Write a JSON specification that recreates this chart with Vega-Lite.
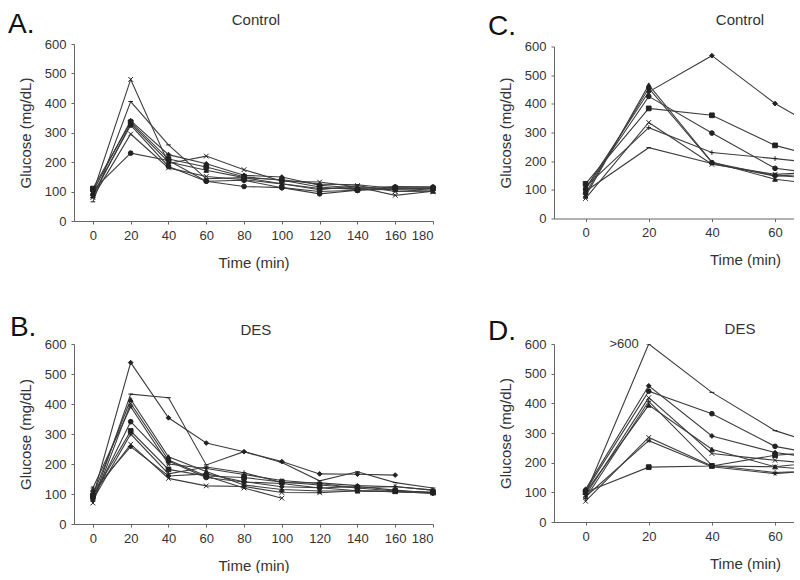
{
  "$schema": "https://vega.github.io/schema/vega-lite/v6.json",
  "padding": {"left": 8, "top": 11, "right": 0, "bottom": 0},
  "background": "white",
  "config": {
    "view": {"stroke": null},
    "font": "Liberation Sans",
    "axis": {"grid": false, "domainColor": "#666", "tickColor": "#666", "labelColor": "#333", "titleColor": "#333", "labelFont": "Liberation Sans", "titleFont": "Liberation Sans", "labelFontSize": 13, "titleFontSize": 15, "titleFontWeight": "normal", "tickSize": 3, "labelPadding": 5},
    "axisY": {"titlePadding": 11},
    "axisX": {"titlePadding": 13},
    "line": {"color": "#3d3d3d", "strokeWidth": 1.1},
    "point": {"filled": true, "color": "#222", "stroke": "#222", "strokeWidth": 1, "size": 22, "opacity": 1}
  },
  "datasets": {
    "A": [
      {"s":"a1","m":"x","t":0,"g":95},{"s":"a1","m":"x","t":20,"g":480},{"s":"a1","m":"x","t":40,"g":195},{"s":"a1","m":"x","t":60,"g":220},{"s":"a1","m":"x","t":80,"g":174},{"s":"a1","m":"x","t":100,"g":135},{"s":"a1","m":"x","t":120,"g":132},{"s":"a1","m":"x","t":140,"g":115},{"s":"a1","m":"x","t":160,"g":87},{"s":"a1","m":"x","t":180,"g":101},
      {"s":"a2","m":"dash","t":0,"g":65},{"s":"a2","m":"dash","t":20,"g":405},{"s":"a2","m":"dash","t":40,"g":258},{"s":"a2","m":"dash","t":60,"g":143},{"s":"a2","m":"dash","t":80,"g":147},{"s":"a2","m":"dash","t":100,"g":140},{"s":"a2","m":"dash","t":120,"g":125},{"s":"a2","m":"dash","t":140,"g":123},{"s":"a2","m":"dash","t":160,"g":110},{"s":"a2","m":"dash","t":180,"g":105},
      {"s":"a3","m":"diamond","t":0,"g":100},{"s":"a3","m":"diamond","t":20,"g":340},{"s":"a3","m":"diamond","t":40,"g":225},{"s":"a3","m":"diamond","t":60,"g":194},{"s":"a3","m":"diamond","t":80,"g":155},{"s":"a3","m":"diamond","t":100,"g":149},{"s":"a3","m":"diamond","t":120,"g":121},{"s":"a3","m":"diamond","t":140,"g":112},{"s":"a3","m":"diamond","t":160,"g":117},{"s":"a3","m":"diamond","t":180,"g":115},
      {"s":"a4","m":"square","t":0,"g":110},{"s":"a4","m":"square","t":20,"g":335},{"s":"a4","m":"square","t":40,"g":210},{"s":"a4","m":"square","t":60,"g":183},{"s":"a4","m":"square","t":80,"g":150},{"s":"a4","m":"square","t":100,"g":138},{"s":"a4","m":"square","t":120,"g":115},{"s":"a4","m":"square","t":140,"g":106},{"s":"a4","m":"square","t":160,"g":112},{"s":"a4","m":"square","t":180,"g":110},
      {"s":"a5","m":"triangle","t":0,"g":85},{"s":"a5","m":"triangle","t":20,"g":330},{"s":"a5","m":"triangle","t":40,"g":200},{"s":"a5","m":"triangle","t":60,"g":172},{"s":"a5","m":"triangle","t":80,"g":147},{"s":"a5","m":"triangle","t":100,"g":126},{"s":"a5","m":"triangle","t":120,"g":110},{"s":"a5","m":"triangle","t":140,"g":110},{"s":"a5","m":"triangle","t":160,"g":106},{"s":"a5","m":"triangle","t":180,"g":101},
      {"s":"a6","m":"circle","t":0,"g":90},{"s":"a6","m":"circle","t":20,"g":325},{"s":"a6","m":"circle","t":40,"g":185},{"s":"a6","m":"circle","t":60,"g":135},{"s":"a6","m":"circle","t":80,"g":138},{"s":"a6","m":"circle","t":100,"g":113},{"s":"a6","m":"circle","t":120,"g":100},{"s":"a6","m":"circle","t":140,"g":104},{"s":"a6","m":"circle","t":160,"g":108},{"s":"a6","m":"circle","t":180,"g":112},
      {"s":"a7","m":"x","t":0,"g":80},{"s":"a7","m":"x","t":20,"g":295},{"s":"a7","m":"x","t":40,"g":180},{"s":"a7","m":"x","t":60,"g":151},{"s":"a7","m":"x","t":80,"g":140},{"s":"a7","m":"x","t":100,"g":126},{"s":"a7","m":"x","t":120,"g":106},{"s":"a7","m":"x","t":140,"g":120},{"s":"a7","m":"x","t":160,"g":100},{"s":"a7","m":"x","t":180,"g":101},
      {"s":"a8","m":"circle","t":0,"g":105},{"s":"a8","m":"circle","t":20,"g":230},{"s":"a8","m":"circle","t":40,"g":205},{"s":"a8","m":"circle","t":60,"g":135},{"s":"a8","m":"circle","t":80,"g":117},{"s":"a8","m":"circle","t":100,"g":113},{"s":"a8","m":"circle","t":120,"g":92},{"s":"a8","m":"circle","t":140,"g":104},{"s":"a8","m":"circle","t":160,"g":115},{"s":"a8","m":"circle","t":180,"g":115}
    ],
    "B": [
      {"s":"b1","m":"diamond","t":0,"g":90},{"s":"b1","m":"diamond","t":20,"g":538},{"s":"b1","m":"diamond","t":40,"g":354},{"s":"b1","m":"diamond","t":60,"g":270},{"s":"b1","m":"diamond","t":80,"g":241},{"s":"b1","m":"diamond","t":100,"g":208},{"s":"b1","m":"diamond","t":120,"g":167},{"s":"b1","m":"diamond","t":140,"g":166},{"s":"b1","m":"diamond","t":160,"g":163},
      {"s":"b2","m":"dash","t":0,"g":75},{"s":"b2","m":"dash","t":20,"g":433},{"s":"b2","m":"dash","t":40,"g":421},{"s":"b2","m":"dash","t":60,"g":197},{"s":"b2","m":"dash","t":80,"g":241},{"s":"b2","m":"dash","t":100,"g":205},{"s":"b2","m":"dash","t":120,"g":144},{"s":"b2","m":"dash","t":140,"g":174},{"s":"b2","m":"dash","t":160,"g":138},{"s":"b2","m":"dash","t":180,"g":120},
      {"s":"b3","m":"triangle","t":0,"g":95},{"s":"b3","m":"triangle","t":20,"g":415},{"s":"b3","m":"triangle","t":40,"g":224},{"s":"b3","m":"triangle","t":60,"g":175},{"s":"b3","m":"triangle","t":80,"g":130},{"s":"b3","m":"triangle","t":100,"g":115},{"s":"b3","m":"triangle","t":120,"g":110},{"s":"b3","m":"triangle","t":140,"g":110},{"s":"b3","m":"triangle","t":160,"g":108},{"s":"b3","m":"triangle","t":180,"g":106},
      {"s":"b4","m":"x","t":0,"g":70},{"s":"b4","m":"x","t":20,"g":402},{"s":"b4","m":"x","t":40,"g":213},{"s":"b4","m":"x","t":60,"g":160},{"s":"b4","m":"x","t":80,"g":120},{"s":"b4","m":"x","t":100,"g":86},
      {"s":"b5","m":"star","t":0,"g":120},{"s":"b5","m":"star","t":20,"g":391},{"s":"b5","m":"star","t":40,"g":200},{"s":"b5","m":"star","t":60,"g":185},{"s":"b5","m":"star","t":80,"g":165},{"s":"b5","m":"star","t":100,"g":145},{"s":"b5","m":"star","t":120,"g":135},{"s":"b5","m":"star","t":140,"g":120},{"s":"b5","m":"star","t":160,"g":125},{"s":"b5","m":"star","t":180,"g":113},
      {"s":"b6","m":"circle","t":0,"g":85},{"s":"b6","m":"circle","t":20,"g":341},{"s":"b6","m":"circle","t":40,"g":210},{"s":"b6","m":"circle","t":60,"g":155},{"s":"b6","m":"circle","t":80,"g":140},{"s":"b6","m":"circle","t":100,"g":135},{"s":"b6","m":"circle","t":120,"g":120},{"s":"b6","m":"circle","t":140,"g":125},{"s":"b6","m":"circle","t":160,"g":113},{"s":"b6","m":"circle","t":180,"g":103},
      {"s":"b7","m":"square","t":0,"g":95},{"s":"b7","m":"square","t":20,"g":310},{"s":"b7","m":"square","t":40,"g":182},{"s":"b7","m":"square","t":60,"g":160},{"s":"b7","m":"square","t":80,"g":155},{"s":"b7","m":"square","t":100,"g":140},{"s":"b7","m":"square","t":120,"g":130},{"s":"b7","m":"square","t":140,"g":120},{"s":"b7","m":"square","t":160,"g":110},{"s":"b7","m":"square","t":180,"g":106},
      {"s":"b8","m":"plus","t":0,"g":80},{"s":"b8","m":"plus","t":20,"g":300},{"s":"b8","m":"plus","t":40,"g":167},{"s":"b8","m":"plus","t":60,"g":190},{"s":"b8","m":"plus","t":80,"g":171},{"s":"b8","m":"plus","t":100,"g":138},{"s":"b8","m":"plus","t":120,"g":137},{"s":"b8","m":"plus","t":140,"g":128},{"s":"b8","m":"plus","t":160,"g":124},{"s":"b8","m":"plus","t":180,"g":113},
      {"s":"b9","m":"x","t":0,"g":100},{"s":"b9","m":"x","t":20,"g":266},{"s":"b9","m":"x","t":40,"g":152},{"s":"b9","m":"x","t":60,"g":127},{"s":"b9","m":"x","t":80,"g":125},{"s":"b9","m":"x","t":100,"g":105},{"s":"b9","m":"x","t":120,"g":104},{"s":"b9","m":"x","t":140,"g":111},{"s":"b9","m":"x","t":160,"g":108},{"s":"b9","m":"x","t":180,"g":103},
      {"s":"b10","m":"diamond","t":0,"g":110},{"s":"b10","m":"diamond","t":20,"g":258},{"s":"b10","m":"diamond","t":40,"g":160},{"s":"b10","m":"diamond","t":60,"g":167},{"s":"b10","m":"diamond","t":80,"g":141},{"s":"b10","m":"diamond","t":100,"g":124},{"s":"b10","m":"diamond","t":120,"g":121},{"s":"b10","m":"diamond","t":140,"g":111},{"s":"b10","m":"diamond","t":160,"g":108},{"s":"b10","m":"diamond","t":180,"g":103}
    ],
    "C": [
      {"s":"c1","m":"diamond","t":0,"g":105},{"s":"c1","m":"diamond","t":20,"g":442},{"s":"c1","m":"diamond","t":40,"g":568},{"s":"c1","m":"diamond","t":60,"g":401},{"s":"c1","m":"diamond","t":80,"g":275},
      {"s":"c2","m":"square","t":0,"g":121},{"s":"c2","m":"square","t":20,"g":384},{"s":"c2","m":"square","t":40,"g":360},{"s":"c2","m":"square","t":60,"g":255},{"s":"c2","m":"square","t":80,"g":197},
      {"s":"c3","m":"circle","t":0,"g":102},{"s":"c3","m":"circle","t":20,"g":426},{"s":"c3","m":"circle","t":40,"g":298},{"s":"c3","m":"circle","t":60,"g":175},{"s":"c3","m":"circle","t":80,"g":148},
      {"s":"c4","m":"triangle","t":0,"g":78},{"s":"c4","m":"triangle","t":20,"g":466},{"s":"c4","m":"triangle","t":40,"g":197},{"s":"c4","m":"triangle","t":60,"g":137},{"s":"c4","m":"triangle","t":80,"g":110},
      {"s":"c5","m":"x","t":0,"g":70},{"s":"c5","m":"x","t":20,"g":335},{"s":"c5","m":"x","t":40,"g":189},{"s":"c5","m":"x","t":60,"g":154},{"s":"c5","m":"x","t":80,"g":165},
      {"s":"c6","m":"plus","t":0,"g":110},{"s":"c6","m":"plus","t":20,"g":317},{"s":"c6","m":"plus","t":40,"g":230},{"s":"c6","m":"plus","t":60,"g":209},{"s":"c6","m":"plus","t":80,"g":185},
      {"s":"c7","m":"dash","t":0,"g":95},{"s":"c7","m":"dash","t":20,"g":247},{"s":"c7","m":"dash","t":40,"g":192},{"s":"c7","m":"dash","t":60,"g":148},{"s":"c7","m":"dash","t":80,"g":160},
      {"s":"c8","m":"circle","t":0,"g":88},{"s":"c8","m":"circle","t":20,"g":455},{"s":"c8","m":"circle","t":40,"g":195},{"s":"c8","m":"circle","t":60,"g":150},{"s":"c8","m":"circle","t":80,"g":135}
    ],
    "D": [
      {"s":"d1","m":"dash","t":0,"g":95},{"s":"d1","m":"dash","t":20,"g":600},{"s":"d1","m":"dash","t":40,"g":437},{"s":"d1","m":"dash","t":60,"g":308},{"s":"d1","m":"dash","t":80,"g":240},
      {"s":"d2","m":"circle","t":0,"g":105},{"s":"d2","m":"circle","t":20,"g":441},{"s":"d2","m":"circle","t":40,"g":365},{"s":"d2","m":"circle","t":60,"g":255},{"s":"d2","m":"circle","t":80,"g":215},
      {"s":"d3","m":"diamond","t":0,"g":110},{"s":"d3","m":"diamond","t":20,"g":459},{"s":"d3","m":"diamond","t":40,"g":290},{"s":"d3","m":"diamond","t":60,"g":234},{"s":"d3","m":"diamond","t":80,"g":205},
      {"s":"d4","m":"triangle","t":0,"g":100},{"s":"d4","m":"triangle","t":20,"g":394},{"s":"d4","m":"triangle","t":40,"g":245},{"s":"d4","m":"triangle","t":60,"g":186},{"s":"d4","m":"triangle","t":80,"g":170},
      {"s":"d5","m":"x","t":0,"g":90},{"s":"d5","m":"x","t":20,"g":419},{"s":"d5","m":"x","t":40,"g":231},{"s":"d5","m":"x","t":60,"g":208},{"s":"d5","m":"x","t":80,"g":190},
      {"s":"d6","m":"plus","t":0,"g":80},{"s":"d6","m":"plus","t":20,"g":407},{"s":"d6","m":"plus","t":40,"g":191},{"s":"d6","m":"plus","t":60,"g":167},{"s":"d6","m":"plus","t":80,"g":175},
      {"s":"d7","m":"x","t":0,"g":70},{"s":"d7","m":"x","t":20,"g":285},{"s":"d7","m":"x","t":40,"g":189},{"s":"d7","m":"x","t":60,"g":186},{"s":"d7","m":"x","t":80,"g":210},
      {"s":"d8","m":"star","t":0,"g":85},{"s":"d8","m":"star","t":20,"g":274},{"s":"d8","m":"star","t":40,"g":186},{"s":"d8","m":"star","t":60,"g":163},{"s":"d8","m":"star","t":80,"g":180},
      {"s":"d9","m":"square","t":0,"g":100},{"s":"d9","m":"square","t":20,"g":185},{"s":"d9","m":"square","t":40,"g":189},{"s":"d9","m":"square","t":60,"g":225},{"s":"d9","m":"square","t":80,"g":240}
    ]
  },
  "columns": 2,
  "bounds": "flush",
  "align": "each",
  "center": true,
  "spacing": {"row": 123, "column": 121},
  "resolve": {"scale": {"x": "independent", "y": "independent", "shape": "independent"}},
  "concat": [
    {
      "width": 359, "height": 177,
      "data": {"name": "A"},
      "encoding": {
        "x": {"field": "t", "type": "quantitative", "scale": {"domain": [-10, 180], "nice": false, "zero": false}, "axis": {"values": [0,20,40,60,80,100,120,140,160,180], "title": "Time (min)"}},
        "y": {"field": "g", "type": "quantitative", "scale": {"domain": [0, 600], "nice": false}, "axis": {"values": [0,100,200,300,400,500,600], "title": "Glucose (mg/dL)"}}
      },
      "layer": [
        {"mark": {"type": "line"}, "encoding": {"detail": {"field": "s"}}},
        {"mark": {"type": "point"},
         "encoding": {"shape": {"field": "m", "legend": null, "scale": {"domain": ["diamond","square","triangle","x","circle","dash","plus","star"], "range": ["diamond","square","triangle-up","M-1,-1L1,1M-1,1L1,-1","circle","M-1,0L1,0","M-1,0L1,0M0,-1L0,1","M-1,0L1,0M-0.5,-0.87L0.5,0.87M-0.5,0.87L0.5,-0.87"]}}}},
        {"transform": [{"filter": "datum.s == 'a1' && datum.t == 0"}],
         "mark": {"type": "text", "text": "A.", "fontSize": 28, "font": "Liberation Sans", "align": "left", "baseline": "alphabetic", "color": "#111"},
         "encoding": {"x": {"datum": -44.9}, "y": {"datum": 637}}},
        {"transform": [{"filter": "datum.s == 'a1' && datum.t == 0"}],
         "mark": {"type": "text", "text": "Control", "fontSize": 15, "font": "Liberation Sans", "align": "center", "baseline": "alphabetic", "color": "#333"},
         "encoding": {"x": {"datum": 86.3}, "y": {"datum": 664}}}
      ]
    },
    {
      "width": 240, "height": 172,
      "data": {"name": "C"},
      "encoding": {
        "x": {"field": "t", "type": "quantitative", "scale": {"domain": [-10, 66], "nice": false, "zero": false}, "axis": {"values": [0,20,40,60], "title": "Time (min)", "titleX": 191}},
        "y": {"field": "g", "type": "quantitative", "scale": {"domain": [0, 600], "nice": false}, "axis": {"values": [0,100,200,300,400,500,600], "title": "Glucose (mg/dL)"}}
      },
      "layer": [
        {"mark": {"type": "line", "clip": true}, "encoding": {"detail": {"field": "s"}}},
        {"mark": {"type": "point", "clip": true},
         "encoding": {"shape": {"field": "m", "legend": null, "scale": {"domain": ["diamond","square","triangle","x","circle","dash","plus","star"], "range": ["diamond","square","triangle-up","M-1,-1L1,1M-1,1L1,-1","circle","M-1,0L1,0","M-1,0L1,0M0,-1L0,1","M-1,0L1,0M-0.5,-0.87L0.5,0.87M-0.5,0.87L0.5,-0.87"]}}}},
        {"transform": [{"filter": "datum.s == 'c1' && datum.t == 0"}],
         "mark": {"type": "text", "text": "C.", "fontSize": 28, "font": "Liberation Sans", "align": "left", "baseline": "alphabetic", "color": "#111"},
         "encoding": {"x": {"datum": -30.9}, "y": {"datum": 640}}},
        {"transform": [{"filter": "datum.s == 'c1' && datum.t == 0"}],
         "mark": {"type": "text", "text": "Control", "fontSize": 15, "font": "Liberation Sans", "align": "center", "baseline": "alphabetic", "color": "#333"},
         "encoding": {"x": {"datum": 48.9}, "y": {"datum": 675}}}
      ]
    },
    {
      "width": 359, "height": 180,
      "data": {"name": "B"},
      "encoding": {
        "x": {"field": "t", "type": "quantitative", "scale": {"domain": [-10, 180], "nice": false, "zero": false}, "axis": {"values": [0,20,40,60,80,100,120,140,160,180], "title": "Time (min)"}},
        "y": {"field": "g", "type": "quantitative", "scale": {"domain": [0, 600], "nice": false}, "axis": {"values": [0,100,200,300,400,500,600], "title": "Glucose (mg/dL)"}}
      },
      "layer": [
        {"mark": {"type": "line"}, "encoding": {"detail": {"field": "s"}}},
        {"mark": {"type": "point"},
         "encoding": {"shape": {"field": "m", "legend": null, "scale": {"domain": ["diamond","square","triangle","x","circle","dash","plus","star"], "range": ["diamond","square","triangle-up","M-1,-1L1,1M-1,1L1,-1","circle","M-1,0L1,0","M-1,0L1,0M0,-1L0,1","M-1,0L1,0M-0.5,-0.87L0.5,0.87M-0.5,0.87L0.5,-0.87"]}}}},
        {"transform": [{"filter": "datum.s == 'b1' && datum.t == 0"}],
         "mark": {"type": "text", "text": "B.", "fontSize": 28, "font": "Liberation Sans", "align": "left", "baseline": "alphabetic", "color": "#111"},
         "encoding": {"x": {"datum": -43.9}, "y": {"datum": 627}}},
        {"transform": [{"filter": "datum.s == 'b1' && datum.t == 0"}],
         "mark": {"type": "text", "text": "DES", "fontSize": 15, "font": "Liberation Sans", "align": "center", "baseline": "alphabetic", "color": "#333"},
         "encoding": {"x": {"datum": 86.3}, "y": {"datum": 630}}}
      ]
    },
    {
      "width": 240, "height": 178,
      "data": {"name": "D"},
      "encoding": {
        "x": {"field": "t", "type": "quantitative", "scale": {"domain": [-10, 66], "nice": false, "zero": false}, "axis": {"values": [0,20,40,60], "title": "Time (min)", "titleX": 191}},
        "y": {"field": "g", "type": "quantitative", "scale": {"domain": [0, 600], "nice": false}, "axis": {"values": [0,100,200,300,400,500,600], "title": "Glucose (mg/dL)"}}
      },
      "layer": [
        {"mark": {"type": "line", "clip": true}, "encoding": {"detail": {"field": "s"}}},
        {"mark": {"type": "point", "clip": true},
         "encoding": {"shape": {"field": "m", "legend": null, "scale": {"domain": ["diamond","square","triangle","x","circle","dash","plus","star"], "range": ["diamond","square","triangle-up","M-1,-1L1,1M-1,1L1,-1","circle","M-1,0L1,0","M-1,0L1,0M0,-1L0,1","M-1,0L1,0M-0.5,-0.87L0.5,0.87M-0.5,0.87L0.5,-0.87"]}}}},
        {"transform": [{"filter": "datum.s == 'd1' && datum.t == 0"}],
         "mark": {"type": "text", "text": "D.", "fontSize": 28, "font": "Liberation Sans", "align": "left", "baseline": "alphabetic", "color": "#111"},
         "encoding": {"x": {"datum": -30.9}, "y": {"datum": 613}}},
        {"transform": [{"filter": "datum.s == 'd1' && datum.t == 0"}],
         "mark": {"type": "text", "text": "DES", "fontSize": 15, "font": "Liberation Sans", "align": "center", "baseline": "alphabetic", "color": "#333"},
         "encoding": {"x": {"datum": 48.9}, "y": {"datum": 634}}},
        {"transform": [{"filter": "datum.s == 'd1' && datum.t == 20"}],
         "mark": {"type": "text", "text": ">600", "fontSize": 13, "font": "Liberation Sans", "align": "right", "baseline": "middle", "dx": -10, "color": "#333"},
         "encoding": {"x": {"field": "t", "type": "quantitative"}, "y": {"field": "g", "type": "quantitative"}}}
      ]
    }
  ]
}
